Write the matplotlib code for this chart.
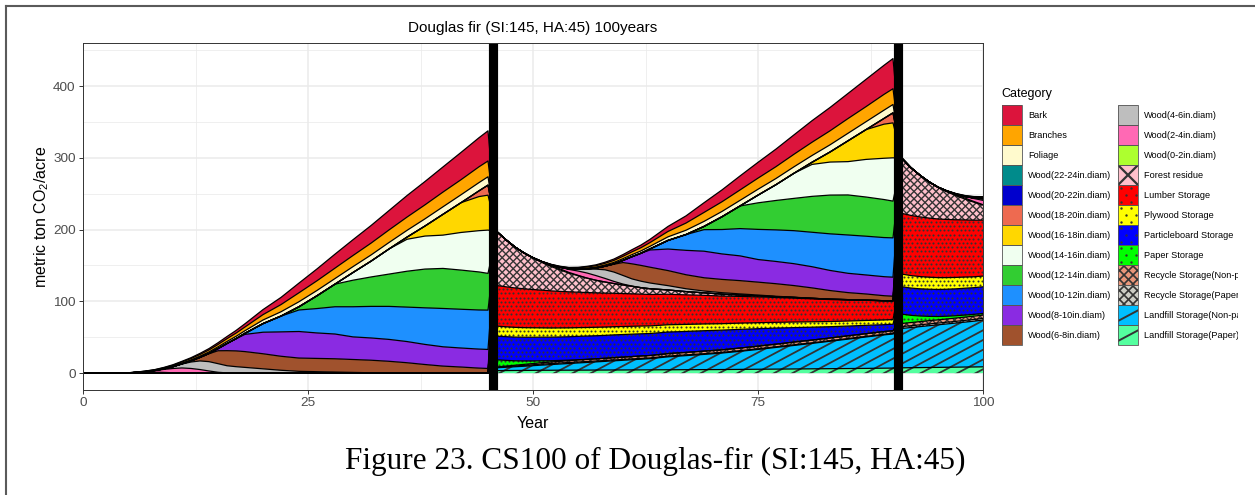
import numpy as np
import matplotlib
matplotlib.use("Agg")
import matplotlib.pyplot as plt
from matplotlib.collections import LineCollection
from matplotlib.patches import Rectangle
from matplotlib.path import Path
from matplotlib.lines import Line2D
from matplotlib.transforms import Bbox, TransformedBbox

plt.rcParams["font.family"] = ["Liberation Sans", "DejaVu Sans"]
plt.rcParams["mathtext.fontset"] = "custom"
plt.rcParams["mathtext.rm"] = "Liberation Sans"
plt.rcParams["mathtext.it"] = "Liberation Sans:italic"
plt.rcParams["mathtext.bf"] = "Liberation Sans:bold"

# ---------------------------------------------------------------- data
CATEGORIES = [
    "Bark", "Branches", "Foliage",
    "Wood(22-24in.diam)", "Wood(20-22in.diam)", "Wood(18-20in.diam)",
    "Wood(16-18in.diam)", "Wood(14-16in.diam)", "Wood(12-14in.diam)",
    "Wood(10-12in.diam)", "Wood(8-10in.diam)", "Wood(6-8in.diam)",
    "Wood(4-6in.diam)", "Wood(2-4in.diam)", "Wood(0-2in.diam)",
    "Forest residue", "Lumber Storage", "Plywood Storage",
    "Particleboard Storage", "Paper Storage", "Recycle Storage(Non-paper)",
    "Recycle Storage(Paper)", "Landfill Storage(Non-paper)",
    "Landfill Storage(Paper)",
]

# stand age (years since planting) for the live-tree pools
AGES = [0, 1, 2, 3, 4, 5, 6, 7, 8, 9, 10, 11, 12, 13, 14, 15, 16, 17, 18,
        20, 22, 24, 26, 28, 30, 32, 34, 36, 38, 40, 42, 44, 45]

BARK = [0, 0, 0, 0, 0, 0.05, 0.1, 0.2, 0.3, 0.5, 0.7, 0.9, 1.2, 1.5, 1.9, 2.4,
        3.0, 3.7, 4.5, 7, 10, 13.5, 16.5, 19.5, 22, 24.5, 27, 30, 32.5, 35,
        38, 40.5, 42]
BRANCHES = [0, 0, 0, 0, 0, 0.05, 0.15, 0.3, 0.5, 0.8, 1.1, 1.5, 1.9, 2.3, 2.8,
            3.3, 3.9, 4.5, 5.2, 7.5, 10, 12.5, 13.5, 14.5, 15.5, 16.5, 17.5,
            18.5, 19.5, 20.5, 21, 22, 22]
FOLIAGE = [0, 0, 0, 0, 0, 0.1, 0.2, 0.35, 0.5, 0.7, 0.9, 1.1, 1.4, 1.7, 2.0,
           2.4, 2.8, 3.2, 3.6, 5, 6, 7, 7.4, 7.8, 8.2, 8.6, 9, 9.4, 10, 10.5,
           11, 11.5, 11.6]
WOOD_22_24 = [0] * 33
WOOD_20_22 = [0] * 33
WOOD_18_20 = [0, 0, 0, 0, 0, 0, 0, 0, 0, 0, 0, 0, 0, 0, 0, 0, 0, 0, 0, 0, 0, 0,
              0, 0, 0, 0, 0, 0, 0, 0, 0, 8, 14]
WOOD_16_18 = [0, 0, 0, 0, 0, 0, 0, 0, 0, 0, 0, 0, 0, 0, 0, 0, 0, 0, 0, 0, 0, 0,
              0, 0, 0, 0, 0, 3, 14, 29, 41.5, 47.5, 48.7]
WOOD_14_16 = [0, 0, 0, 0, 0, 0, 0, 0, 0, 0, 0, 0, 0, 0, 0, 0, 0, 0, 0, 0, 0, 0,
              0, 0, 10.7, 22, 35, 44.5, 46, 46.4, 52.4, 57.5, 60.3]
WOOD_12_14 = [0, 0, 0, 0, 0, 0, 0, 0, 0, 0, 0, 0, 0, 0, 0, 0, 0, 0, 0, 0, 0,
              4.5, 17.8, 31.5, 37, 41, 45, 50, 54, 55.8, 54.6, 53, 51.2]
WOOD_10_12 = [0, 0, 0, 0, 0, 0, 0, 0, 0, 0, 0, 0, 0, 0, 0, 0, 0, 0, 1.5, 12,
              22, 30, 34, 38, 42, 44, 46, 48, 51, 53.4, 54, 54.5, 54.8]
WOOD_8_10 = [0, 0, 0, 0, 0, 0, 0, 0, 0, 0, 0, 0, 0, 0, 0.5, 3, 10, 17, 24, 30,
             34, 37, 35.5, 34.5, 31.5, 31, 30.5, 29.5, 28, 26.9, 26.5, 26.5,
             26.5]
WOOD_6_8 = [0, 0, 0, 0, 0, 0, 0, 0, 0, 0, 0, 0.3, 1.5, 5, 11, 18, 21, 22, 22,
            21, 19.5, 18.5, 18.5, 18.5, 18, 17.5, 16.2, 14.5, 12, 9.8, 8.5, 7,
            6.5]
WOOD_4_6 = [0, 0, 0, 0, 0, 0, 0, 0, 0, 0.8, 2.5, 5.5, 9, 12, 13, 12, 10, 9, 8,
            6, 4, 2.5, 2, 1.5, 1, 0.5, 0.3, 0, 0, 0, 0, 0, 0]
WOOD_2_4 = [0, 0, 0, 0, 0, 0, 0.3, 1.0, 2.3, 4.2, 6, 7, 6.5, 5, 3, 1.2, 0.3, 0,
            0, 0, 0, 0, 0, 0, 0, 0, 0, 0, 0, 0, 0, 0, 0]
WOOD_0_2 = [0, 0, 0, 0, 0, 0.3, 0.8, 1.2, 1.4, 1.0, 0.5, 0.2, 0, 0, 0, 0, 0, 0,
            0, 0, 0, 0, 0, 0, 0, 0, 0, 0, 0, 0, 0, 0, 0]

ROTATION_STARTS = [0, 45, 90]

# harvest products after the first harvest (second rotation)
R2_YEARS = [46, 47, 48, 49, 50, 51, 52, 53, 54, 55, 56, 57, 58, 59, 60, 61,
            62, 63, 65, 67, 69, 71, 73, 75, 77, 79, 81, 83, 85, 87, 89, 90]
R2_RESIDUE = [75, 65.5, 57, 50, 44, 38.5, 34, 30, 26, 23, 20, 17.5, 15.5,
              13.5, 12, 10.5, 9, 8, 6, 4.5, 3.5, 2.7, 2, 1.6, 1.2, 1, 0.8,
              0.6, 0.5, 0.4, 0.3, 0.3]
R2_LUMBER = [56.5, 55.7, 54.9, 54.1, 53.3, 52.5, 51.7, 50.9, 50.2, 49.4, 48.7,
             48.0, 47.3, 46.6, 45.9, 45.2, 44.5, 43.8, 42.5, 41.2, 39.9, 38.5,
             37.2, 35.9, 34.6, 33.3, 32.0, 30.6, 29.3, 28.0, 26.5, 25.8]
R2_PLYWOOD = [14, 13.8, 13.6, 13.4, 13.2, 13.0, 12.8, 12.6, 12.4, 12.2, 12.0,
              11.8, 11.6, 11.4, 11.2, 11.0, 10.8, 10.6, 10.2, 9.8, 9.4, 9.0,
              8.7, 8.4, 8.1, 7.8, 7.5, 7.2, 7.0, 6.8, 6.6, 6.5]
R2_PARTICLEBOARD = [33, 33, 33, 33, 33, 32.9, 32.8, 32.7, 32.6, 32.5, 32.3,
                    32.1, 31.9, 31.7, 31.5, 31.2, 30.9, 30.6, 30, 29.2, 28.4,
                    27.4, 26, 24.3, 22.3, 20.1, 17.9, 15.7, 13.6, 11.6, 9.6, 9]
R2_PAPER = [10, 8, 6.2, 4.8, 3.6, 2.6, 1.8, 1.2, 0.7, 0.4, 0.2, 0.1, 0, 0, 0,
            0, 0, 0, 0, 0, 0, 0, 0, 0, 0, 0, 0, 0, 0, 0, 0, 0]
R2_RECYCLE_NONPAPER = [0.5, 0.8, 1.1, 1.4, 1.7, 2.0, 2.2, 2.4, 2.6, 2.8, 2.9,
                       3.0, 3.1, 3.2, 3.3, 3.3, 3.4, 3.4, 3.5, 3.5, 3.6, 3.6,
                       3.7, 3.7, 3.7, 3.8, 3.8, 3.8, 3.8, 3.8, 3.8, 3.8]
R2_RECYCLE_PAPER = [0.5, 0.8, 1.0, 1.2, 1.3, 1.4, 1.4, 1.4, 1.4, 1.3, 1.3, 1.2,
                    1.2, 1.2, 1.1, 1.1, 1.1, 1.0, 1.0, 1.0, 1.0, 0.9, 0.9, 0.9,
                    0.9, 0.9, 0.8, 0.8, 0.8, 0.8, 0.8, 0.8]
R2_LANDFILL_NONPAPER = [4, 4.6, 5.2, 5.8, 6.5, 7.2, 7.9, 8.6, 9.3, 10, 10.7,
                        11.4, 12.1, 12.8, 13.5, 14.2, 14.9, 15.6, 18, 19.6,
                        21.2, 23, 25.2, 27.6, 30.2, 32.8, 35.5, 38.2, 41, 43.8,
                        46.4, 47.5]
R2_LANDFILL_PAPER = [3.5, 3.6, 3.7, 3.8, 3.9, 4.0, 4.0, 4.1, 4.1, 4.2, 4.2,
                     4.3, 4.3, 4.4, 4.4, 4.5, 4.5, 4.6, 4.7, 4.8, 4.9, 5.0,
                     5.2, 5.4, 5.6, 5.8, 6.0, 6.2, 6.4, 6.6, 6.9, 7.0]

# harvest products after the second harvest (third rotation)
R3_YEARS = [91, 92, 93, 94, 95, 96, 97, 98, 99, 100]
R3_RESIDUE = [76.6, 66.5, 58, 50.5, 44, 38.5, 33.5, 29, 25, 21]
R3_LUMBER = [84.6, 83.8, 83.1, 82.4, 81.7, 81, 80.3, 79.6, 78.8, 78]
R3_PLYWOOD = [17.7, 17.4, 17.1, 16.8, 16.5, 16.2, 15.9, 15.6, 15.2, 14.9]
R3_PARTICLEBOARD = [38.1, 38.0, 37.9, 37.8, 37.7, 37.6, 37.5, 37.4, 37.2, 37.1]
R3_PAPER = [13, 10, 7.8, 6, 4.7, 3.8, 3.2, 2.8, 2.5, 2.3]
R3_RECYCLE_NONPAPER = [4.4, 4.4, 4.5, 4.5, 4.5, 4.5, 4.6, 4.6, 4.6, 4.6]
R3_RECYCLE_PAPER = [2.5, 2.5, 2.5, 2.5, 2.4, 2.4, 2.4, 2.4, 2.4, 2.4]
R3_LANDFILL_NONPAPER = [54.9, 56, 57.1, 58.2, 59.3, 60.4, 61.5, 62.6, 63.8,
                        65.1]
R3_LANDFILL_PAPER = [7.4, 7.6, 7.7, 7.9, 8.0, 8.2, 8.3, 8.5, 8.6, 8.8]

HARVEST_MARKS = [45.5, 90.5]
X_TICKS = [0, 25, 50, 75, 100]
Y_TICKS = [0, 100, 200, 300, 400]

TREE_POOLS = {
    "Bark": BARK, "Branches": BRANCHES, "Foliage": FOLIAGE,
    "Wood(22-24in.diam)": WOOD_22_24, "Wood(20-22in.diam)": WOOD_20_22,
    "Wood(18-20in.diam)": WOOD_18_20, "Wood(16-18in.diam)": WOOD_16_18,
    "Wood(14-16in.diam)": WOOD_14_16, "Wood(12-14in.diam)": WOOD_12_14,
    "Wood(10-12in.diam)": WOOD_10_12, "Wood(8-10in.diam)": WOOD_8_10,
    "Wood(6-8in.diam)": WOOD_6_8, "Wood(4-6in.diam)": WOOD_4_6,
    "Wood(2-4in.diam)": WOOD_2_4, "Wood(0-2in.diam)": WOOD_0_2,
}
PRODUCT_POOLS = {
    "Forest residue": (R2_RESIDUE, R3_RESIDUE),
    "Lumber Storage": (R2_LUMBER, R3_LUMBER),
    "Plywood Storage": (R2_PLYWOOD, R3_PLYWOOD),
    "Particleboard Storage": (R2_PARTICLEBOARD, R3_PARTICLEBOARD),
    "Paper Storage": (R2_PAPER, R3_PAPER),
    "Recycle Storage(Non-paper)": (R2_RECYCLE_NONPAPER, R3_RECYCLE_NONPAPER),
    "Recycle Storage(Paper)": (R2_RECYCLE_PAPER, R3_RECYCLE_PAPER),
    "Landfill Storage(Non-paper)": (R2_LANDFILL_NONPAPER, R3_LANDFILL_NONPAPER),
    "Landfill Storage(Paper)": (R2_LANDFILL_PAPER, R3_LANDFILL_PAPER),
}

# ---------------------------------------------------------------- styles
FILL = {
    "Bark": "#DC143C", "Branches": "#FFA500", "Foliage": "#FFFACD",
    "Wood(22-24in.diam)": "#008B8B", "Wood(20-22in.diam)": "#0000CD",
    "Wood(18-20in.diam)": "#EE6A50", "Wood(16-18in.diam)": "#FFD700",
    "Wood(14-16in.diam)": "#F0FFF0", "Wood(12-14in.diam)": "#32CD32",
    "Wood(10-12in.diam)": "#1E90FF", "Wood(8-10in.diam)": "#8A2BE2",
    "Wood(6-8in.diam)": "#A0522D", "Wood(4-6in.diam)": "#BEBEBE",
    "Wood(2-4in.diam)": "#FF69B4", "Wood(0-2in.diam)": "#ADFF2F",
    "Forest residue": "#FFC0CB", "Lumber Storage": "#FF0000",
    "Plywood Storage": "#FFFF00", "Particleboard Storage": "#0000FF",
    "Paper Storage": "#00FF00", "Recycle Storage(Non-paper)": "#E9967A",
    "Recycle Storage(Paper)": "#CCCCC4",
    "Landfill Storage(Non-paper)": "#00BFFF",
    "Landfill Storage(Paper)": "#54FF9F",
}
PATTERN = {
    "Forest residue": "cross", "Lumber Storage": "dots",
    "Plywood Storage": "dots", "Particleboard Storage": "dots",
    "Paper Storage": "dots", "Recycle Storage(Non-paper)": "cross",
    "Recycle Storage(Paper)": "cross",
    "Landfill Storage(Non-paper)": "stripe",
    "Landfill Storage(Paper)": "stripe",
}
PAT_COLOR = "#333333"

# ---------------------------------------------------------------- timeline
years = list(AGES)
for y in R2_YEARS:
    years.append(y)
for y in R3_YEARS:
    years.append(y)
years = np.array(years, dtype=float)


def tree_series(values):
    out = list(values)
    for start, yrs in ((ROTATION_STARTS[1], R2_YEARS),
                       (ROTATION_STARTS[2], R3_YEARS)):
        for y in yrs:
            out.append(values[AGES.index(y - start)])
    return np.array(out, dtype=float)


def product_series(r2, r3):
    return np.array([0.0] * len(AGES) + list(r2) + list(r3), dtype=float)


series = {}
for cat in CATEGORIES:
    if cat in TREE_POOLS:
        series[cat] = tree_series(TREE_POOLS[cat])
    else:
        series[cat] = product_series(*PRODUCT_POOLS[cat])

# ---------------------------------------------------------------- figure
W, H = 1255, 495
DPI = 100
fig = plt.figure(figsize=(W / DPI, H / DPI), dpi=DPI)
fig.patch.set_facecolor("white")

AX_L, AX_R, AX_T, AX_B = 83, 983, 43, 390
ax = fig.add_axes([AX_L / W, (H - AX_B) / H, (AX_R - AX_L) / W,
                   (AX_B - AX_T) / H])
XLIM = (0, 100)
YLIM = (-23.5, 460)

# axes styling (bw theme look); limits are fixed after the ticks
ax.set_xticks(X_TICKS)
ax.set_yticks(Y_TICKS)
ax.set_xticks([12.5, 37.5, 62.5, 87.5], minor=True)
ax.set_yticks([50, 150, 250, 350, 450], minor=True)
ax.set_xlim(*XLIM)
ax.set_ylim(*YLIM)
ax.grid(which="major", color="#EBEBEB", linewidth=1.1)
ax.grid(which="minor", color="#EBEBEB", linewidth=0.55)
ax.set_axisbelow(True)
ax.tick_params(which="major", length=2.8, width=0.7, color="#333333",
               labelsize=9.7, labelcolor="#4D4D4D", pad=2.5)
ax.tick_params(which="minor", length=0)
for sp in ax.spines.values():
    sp.set_color("#333333")
    sp.set_linewidth(0.7)
    sp.set_zorder(5)

sx = (AX_R - AX_L) / (XLIM[1] - XLIM[0])  # pixels per year
sy = (AX_B - AX_T) / (YLIM[1] - YLIM[0])  # pixels per ton


def to_px(x, y):
    return (np.asarray(x) - XLIM[0]) * sx, (np.asarray(y) - YLIM[0]) * sy


def to_data(px, py):
    return XLIM[0] + np.asarray(px) / sx, YLIM[0] + np.asarray(py) / sy


def line_family(px0, px1, py0, py1, angle, spacing):
    """Parallel lines (pixel space) at `angle` deg, perpendicular gap `spacing`."""
    t = np.tan(np.radians(angle))
    gap = spacing / abs(np.cos(np.radians(angle)))
    cands = [py0 - t * px0, py0 - t * px1, py1 - t * px0, py1 - t * px1]
    cmin, cmax = min(cands), max(cands)
    cs = np.arange(np.floor(cmin / gap) * gap, cmax + gap, gap)
    return [((px0, t * px0 + c), (px1, t * px1 + c)) for c in cs]


def dot_grid(px0, px1, py0, py1, spacing):
    pts = []
    j0 = int(np.floor(py0 / spacing))
    j1 = int(np.ceil(py1 / spacing))
    for j in range(j0, j1 + 1):
        off = (j % 2) * spacing / 2
        xs = np.arange(np.floor(px0 / spacing) * spacing + off,
                       px1 + spacing, spacing)
        pts.append(np.column_stack([xs, np.full(len(xs), j * spacing)]))
    return np.vstack(pts)


cum = np.zeros_like(years)
uppers = []
for cat in reversed(CATEGORIES):
    vals = series[cat]
    lower = cum.copy()
    upper = cum + vals
    ax.fill_between(years, lower, upper, facecolor=FILL[cat],
                    edgecolor="none", linewidth=0, zorder=1)
    kind = PATTERN.get(cat)
    if kind is not None and np.any(vals > 0):
        verts = np.vstack([np.column_stack([years, upper]),
                           np.column_stack([years[::-1], lower[::-1]])])
        clip = Path(verts, closed=True)
        nz = np.where(vals > 0)[0]
        xa = years[max(nz[0] - 1, 0)]
        xb = years[min(nz[-1] + 1, len(years) - 1)]
        px0, _ = to_px(xa, 0)
        px1, _ = to_px(xb, 0)
        _, py0 = to_px(0, lower.min())
        _, py1 = to_px(0, upper.max())
        px0, px1, py0, py1 = px0 - 10, px1 + 10, py0 - 10, py1 + 10
        if kind in ("cross", "stripe"):
            if kind == "cross":
                segs = (line_family(px0, px1, py0, py1, 45, 5.2)
                        + line_family(px0, px1, py0, py1, -45, 5.2))
                lw = 1.0
            else:
                segs = line_family(px0, px1, py0, py1, 28, 8.6)
                lw = 1.3
            dsegs = []
            for (a, b) in segs:
                xa_, ya_ = to_data(a[0], a[1])
                xb_, yb_ = to_data(b[0], b[1])
                dsegs.append(((xa_, ya_), (xb_, yb_)))
            lc = LineCollection(dsegs, colors=PAT_COLOR, linewidths=lw,
                                zorder=1.5)
            ax.add_collection(lc, autolim=False)
            lc.set_clip_path(clip, ax.transData)
        else:
            pts = dot_grid(px0, px1, py0, py1, 4.2)
            dx, dy = to_data(pts[:, 0], pts[:, 1])
            sc = ax.scatter(dx, dy, s=2.2, c=PAT_COLOR, marker="o",
                            linewidths=0, zorder=1.5)
            sc.set_clip_path(clip, ax.transData)
    uppers.append(upper)
    cum = upper

for upper in uppers:
    ax.plot(years, upper, color="black", linewidth=0.9, zorder=2,
            solid_joinstyle="round")

for xm in HARVEST_MARKS:
    ax.axvline(xm, color="black", linewidth=6.6, zorder=4)

ax.set_xlim(*XLIM)
ax.set_ylim(*YLIM)

ax.set_xlabel("Year", fontsize=11.5, color="black")
ax.xaxis.set_label_coords(0.5, -(424 - AX_B) / (AX_B - AX_T))
ax.xaxis.label.set_va("center")
ax.set_ylabel("metric ton CO$_2$/acre", fontsize=11.5, color="black")
ax.yaxis.set_label_coords(-(AX_L - 42) / (AX_R - AX_L), 0.5)
ax.yaxis.label.set_va("center")

# ---------------------------------------------------------------- overlay (pixel space)
ov = fig.add_axes([0, 0, 1, 1])
ov.set_xlim(0, W)
ov.set_ylim(H, 0)
ov.set_axis_off()

ov.text((AX_L + AX_R) / 2, 28, "Douglas fir (SI:145, HA:45) 100years",
        ha="center", va="center", fontsize=11)
ov.text(655, 461, "Figure 23. CS100 of Douglas-fir (SI:145, HA:45)",
        ha="center", va="center", fontsize=22.5,
        family=["Liberation Serif", "DejaVu Serif"])

# page frame
ov.add_line(Line2D([6, W], [6, 6], color="#5a5a5a", linewidth=1.5))
ov.add_line(Line2D([6, 6], [6, H], color="#5a5a5a", linewidth=1.5))

# the embedded chart image ends a little before the page edge
chart_box = TransformedBbox(Bbox.from_extents(0, 0, 1238, H), ov.transData)

# legend
ov.text(1001, 94, "Category", ha="left", va="center", fontsize=9)
KEY_W, KEY_H, ROW0 = 20, 20, 105
COL_X = [1002, 1118]
for i, cat in enumerate(CATEGORIES):
    col, row = divmod(i, 12)
    kx = COL_X[col]
    ky = ROW0 + row * KEY_H
    rect = Rectangle((kx, ky), KEY_W, KEY_H, facecolor=FILL[cat],
                     edgecolor="none", zorder=2)
    ov.add_patch(rect)
    kind = PATTERN.get(cat)
    if kind == "cross":
        gap = 20 if cat == "Forest residue" else 9
        segs = []
        for c in np.arange(-40, 40, gap):
            segs.append(((kx + c - 10, ky - 10), (kx + c + 40, ky + 40)))
            segs.append(((kx + c - 10, ky + 30), (kx + c + 40, ky - 20)))
        lc = LineCollection(segs, colors=PAT_COLOR,
                            linewidths=1.6 if gap == 20 else 1.2, zorder=3)
        ov.add_collection(lc)
        lc.set_clip_path(rect)
    elif kind == "stripe":
        t = np.tan(np.radians(28))
        segs = [((kx - 5, ky + 16 + 5 * t), (kx + 25, ky + 16 - 25 * t))]
        lc = LineCollection(segs, colors=PAT_COLOR, linewidths=1.4, zorder=3)
        ov.add_collection(lc)
        lc.set_clip_path(rect)
    elif kind == "dots":
        dxs = [kx + 3, kx + 13, kx + 8, kx + 18, kx + 3, kx + 13]
        dys = [ky + 3, ky + 3, ky + 10, ky + 10, ky + 17, ky + 17]
        sc = ov.scatter(dxs, dys, s=3, c=PAT_COLOR, linewidths=0, zorder=3)
        sc.set_clip_path(rect)
    ov.add_patch(Rectangle((kx, ky), KEY_W, KEY_H, facecolor="none",
                           edgecolor="#555555", linewidth=0.6, zorder=4))
    lbl = ov.text(kx + KEY_W + 6, ky + KEY_H / 2, cat, ha="left",
                  va="center", fontsize=6.6, color="black", zorder=5)
    lbl.set_clip_box(chart_box)
    lbl.set_clip_on(True)

fig.savefig("out.png", dpi=DPI, facecolor="white")
